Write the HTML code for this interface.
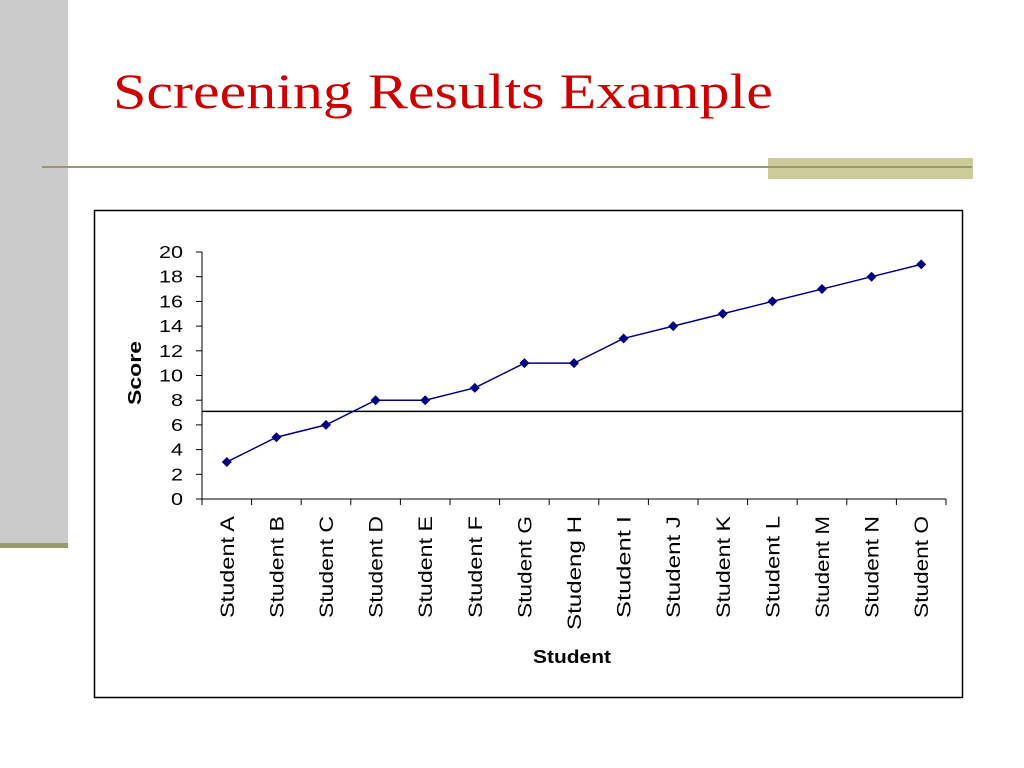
<!DOCTYPE html>
<html><head><meta charset="utf-8"><style>
body{margin:0;width:1024px;height:768px;background:#fff;position:relative;overflow:hidden;font-family:"Liberation Sans",sans-serif}
.abs{position:absolute}
</style></head><body>
<div class="abs" style="left:0;top:0;width:68px;height:544px;background:#cbcbcb"></div>
<div class="abs" style="left:0;top:543px;width:68px;height:5px;background:#9a9a6c"></div>
<div class="abs" style="left:113px;top:62px;font-family:'Liberation Serif',serif;font-size:50px;color:#cc0000;white-space:nowrap;transform:scaleX(1.2);transform-origin:0 0">Screening Results Example</div>
<div class="abs" style="left:768px;top:158px;width:205px;height:21px;background:#cccc99"></div>
<div class="abs" style="left:42px;top:166px;width:930px;height:2px;background:#999970"></div>
<svg class="abs" style="left:0;top:0" width="1024" height="768">
<rect x="94.5" y="210.5" width="868" height="487" fill="none" stroke="#000" stroke-width="1.5"/>
<g id="g"></g>
<text x="141" y="373" transform="rotate(-90 141 373)" text-anchor="middle" font-size="18" font-weight="bold" textLength="64" lengthAdjust="spacingAndGlyphs">Score</text>
<text x="572" y="663" text-anchor="middle" font-size="18" font-weight="bold" textLength="78" lengthAdjust="spacingAndGlyphs">Student</text>
</svg>
<script>
const categories=["Student A","Student B","Student C","Student D","Student E","Student F","Student G","Studeng H","Student I","Student J","Student K","Student L","Student M","Student N","Student O"];
const scores=[3,5,6,8,8,9,11,11,13,14,15,16,17,18,19];
const yTicks=[0,2,4,6,8,10,12,14,16,18,20];
const threshold=[7.1];
const NS="http://www.w3.org/2000/svg",g=document.getElementById('g');
const x0=202,x1=946,y0=499,y1=252,yMax=20;
const step=(x1-x0)/categories.length;
const X=i=>x0+step*(i+0.5), Y=v=>y0-(y0-y1)*v/yMax;
function mk(t,a,parent){const e=document.createElementNS(NS,t);for(const k in a)e.setAttribute(k,a[k]);(parent||g).appendChild(e);return e;}
let e;
e=mk('line',{x1:x0,y1:y1,x2:x0,y2:y0,stroke:'#000','stroke-width':1});


e=mk('line',{x1:x0,y1:y0,x2:x1,y2:y0,stroke:'#000','stroke-width':1});


yTicks.forEach(v=>{
 mk('line',{x1:x0-6,y1:Y(v),x2:x0,y2:Y(v),stroke:'#000'});
 const ty=Y(v)+6;
 e=mk('text',{x:183,y:ty,'text-anchor':'end','font-size':18,transform:`translate(183 0) scale(1.2 1) translate(-183 0)`});
 e.textContent=v;
 
 
});
for(let i=0;i<=categories.length;i++){mk('line',{x1:x0+step*i,y1:y0,x2:x0+step*i,y2:y0+6,stroke:'#000'});}
categories.forEach((c,i)=>{
 const tx=X(i)+7;
 e=mk('text',{x:tx,y:516,'text-anchor':'end','font-size':19,transform:`rotate(-90 ${tx} 516)`});
 e.textContent=c;
 e.setAttribute('textLength', c.indexOf('Studeng')===0?114:(c.length===9?102:102));
 e.setAttribute('lengthAdjust','spacingAndGlyphs');
 
 
});
e=mk('line',{x1:x0,y1:Y(threshold[0]),x2:963,y2:Y(threshold[0]),stroke:'#000','stroke-width':1.5});


e=mk('polyline',{points:scores.map((v,i)=>X(i)+','+Y(v)).join(' '),fill:'none',stroke:'#000080','stroke-width':1.5});


scores.forEach((v,i)=>{
 const cx=X(i),cy=Y(v);
 e=mk('polygon',{points:`${cx},${cy-5} ${cx+5},${cy} ${cx},${cy+5} ${cx-5},${cy}`,fill:'#000080'});
 
 
});
</script>
</body></html>
